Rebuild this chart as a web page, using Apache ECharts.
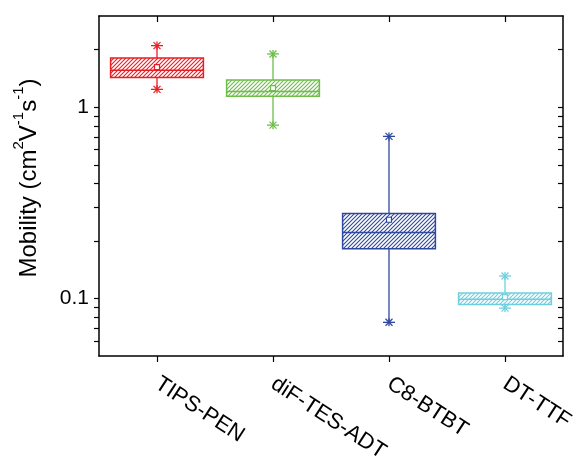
<!DOCTYPE html>
<html>
<head>
<meta charset="utf-8">
<script src="https://cdn.jsdelivr.net/npm/echarts@6/dist/echarts.min.js"></script>
<style>
  html, body { margin: 0; padding: 0; background: #fff; }
  #chart { width: 583px; height: 461px; }
</style>
</head>
<body>
<div id="chart"></div>
<script>
  // data (mobility, cm2/Vs)
  var categories = ['TIPS-PEN', 'diF-TES-ADT', 'C8-BTBT', 'DT-TTF'];
  var whiskerLow = [1.24, 0.806, 0.075, 0.089];
  var q1 = [1.43, 1.14, 0.182, 0.093];
  var median = [1.56, 1.21, 0.221, 0.0989];
  var q3 = [1.81, 1.39, 0.278, 0.1067];
  var whiskerHigh = [2.10, 1.90, 0.704, 0.131];
  var means = [1.62, 1.26, 0.258, 0.1017];
  var boxColors = ['#ec1c24', '#6cbf45', '#2e48a0', '#6ecfdf'];
  var majorTicks = [0.1, 1];
  var minorTicks = [0.06, 0.07, 0.08, 0.09, 0.2, 0.3, 0.4, 0.5, 0.6, 0.7, 0.8, 0.9, 2];
  var yMin = 0.05, yMax = 3;

  // the y axis is logarithmic: values go on a value axis in log10 units
  var lg = function (v) { return Math.log10(v); };

  function hatch(color) {
    var c = document.createElement('canvas');
    c.width = 4; c.height = 4;
    var ctx = c.getContext('2d');
    ctx.fillStyle = '#fff';
    ctx.fillRect(0, 0, 4, 4);
    ctx.strokeStyle = color;
    ctx.lineWidth = 1.1;
    ctx.beginPath();
    ctx.moveTo(-1, 5); ctx.lineTo(5, -1);
    ctx.moveTo(-1, 1); ctx.lineTo(1, -1);
    ctx.moveTo(3, 5); ctx.lineTo(5, 3);
    ctx.stroke();
    return { image: c, repeat: 'repeat' };
  }
  var patterns = boxColors.map(hatch);

  var boxData = categories.map(function (c, i) {
    return [i, lg(whiskerLow[i]), lg(q1[i]), lg(median[i]), lg(q3[i]), lg(whiskerHigh[i]), lg(means[i])];
  });

  function renderBox(params, api) {
    var i = api.value(0);
    var color = boxColors[i];
    var lo = api.coord([i, api.value(1)]);
    var b1 = api.coord([i, api.value(2)]);
    var md = api.coord([i, api.value(3)]);
    var b3 = api.coord([i, api.value(4)]);
    var hi = api.coord([i, api.value(5)]);
    var mn = api.coord([i, api.value(6)]);
    var w = api.size([1, 0], [i, 0])[0] * 0.8;
    var x = lo[0];
    var line = { stroke: color, lineWidth: 1.3 };
    function cap(y) {
      return {
        type: 'group',
        children: [
          { type: 'line', shape: { x1: x - 6, y1: y, x2: x + 6, y2: y }, style: line },
          { type: 'line', shape: { x1: x - 3.5, y1: y - 3.5, x2: x + 3.5, y2: y + 3.5 }, style: line },
          { type: 'line', shape: { x1: x - 3.5, y1: y + 3.5, x2: x + 3.5, y2: y - 3.5 }, style: line },
          { type: 'line', shape: { x1: x, y1: y - 4, x2: x, y2: y + 4 }, style: line }
        ]
      };
    }
    return {
      type: 'group',
      children: [
        { type: 'line', shape: { x1: x, y1: hi[1], x2: x, y2: lo[1] }, style: line },
        cap(hi[1]),
        cap(lo[1]),
        {
          type: 'rect',
          shape: { x: x - w / 2, y: b3[1], width: w, height: b1[1] - b3[1] },
          style: { fill: patterns[i], stroke: color, lineWidth: 1.5 }
        },
        { type: 'line', shape: { x1: x - w / 2, y1: md[1], x2: x + w / 2, y2: md[1] }, style: { stroke: color, lineWidth: 1.5 } },
        {
          type: 'rect',
          shape: { x: x - 2.5, y: mn[1] - 2.5, width: 5, height: 5 },
          style: { fill: '#fff', stroke: color, lineWidth: 1.2 }
        }
      ]
    };
  }

  var font = 'Liberation Sans';
  var allTicks = majorTicks.concat(minorTicks).map(lg);

  var option = {
    backgroundColor: '#fff',
    animation: false,
    grid: { left: 99, right: 20, top: 16, bottom: 105, containLabel: false, outerBoundsMode: 'none' },
    xAxis: [
      {
        type: 'category',
        data: categories,
        position: 'bottom',
        axisLine: { onZero: false, lineStyle: { color: '#000', width: 1.5 } },
        axisTick: { show: true, alignWithLabel: true, length: 6, lineStyle: { color: '#000', width: 1.2 } },
        axisLabel: { color: '#000', fontSize: 22, fontFamily: font, rotate: -33, margin: 26, interval: 0 }
      },
      {
        type: 'category',
        data: categories,
        position: 'top',
        axisLine: { onZero: false, lineStyle: { color: '#000', width: 1.5 } },
        axisTick: { show: true, alignWithLabel: true, inside: true, length: 6, lineStyle: { color: '#000', width: 1.2 } },
        axisLabel: { show: false }
      }
    ],
    yAxis: [
      {
        type: 'value',
        min: lg(yMin),
        max: lg(yMax),
        position: 'left',
        axisLine: { show: true, onZero: false, lineStyle: { color: '#000', width: 1.5 } },
        axisTick: { show: true, length: 5, customValues: allTicks, lineStyle: { color: '#000', width: 1.2 } },
        axisLabel: {
          show: true, customValues: majorTicks.map(lg), color: '#000', fontSize: 21, fontFamily: font, margin: 10,
          formatter: function (v) { return String(+Math.pow(10, v).toFixed(3)); }
        },
        splitLine: { show: false },
        name: '{a|Mobility (cm}{s|2}{a|V}{s|-1}{a|s}{s|-1}{a|)}',
        nameLocation: 'middle',
        nameGap: 58,
        nameTextStyle: {
          padding: [0, 0, 0, 16],
          rich: {
            a: { fontSize: 24, fontFamily: font, color: '#000', lineHeight: 30, verticalAlign: 'bottom' },
            s: { fontSize: 15, fontFamily: font, color: '#000', lineHeight: 30, verticalAlign: 'top' }
          }
        }
      },
      {
        type: 'value',
        min: lg(yMin),
        max: lg(yMax),
        position: 'right',
        axisLine: { show: true, onZero: false, lineStyle: { color: '#000', width: 1.5 } },
        axisTick: { show: true, inside: true, length: 5, customValues: allTicks, lineStyle: { color: '#000', width: 1.2 } },
        axisLabel: { show: false },
        splitLine: { show: false }
      }
    ],
    series: [
      {
        type: 'custom',
        renderItem: renderBox,
        encode: { x: 0, y: [1, 2, 3, 4, 5, 6] },
        data: boxData,
        z: 3
      }
    ]
  };

  var chart = echarts.init(document.getElementById('chart'), null, { renderer: 'canvas' });
  chart.setOption(option);
</script>
</body>
</html>
